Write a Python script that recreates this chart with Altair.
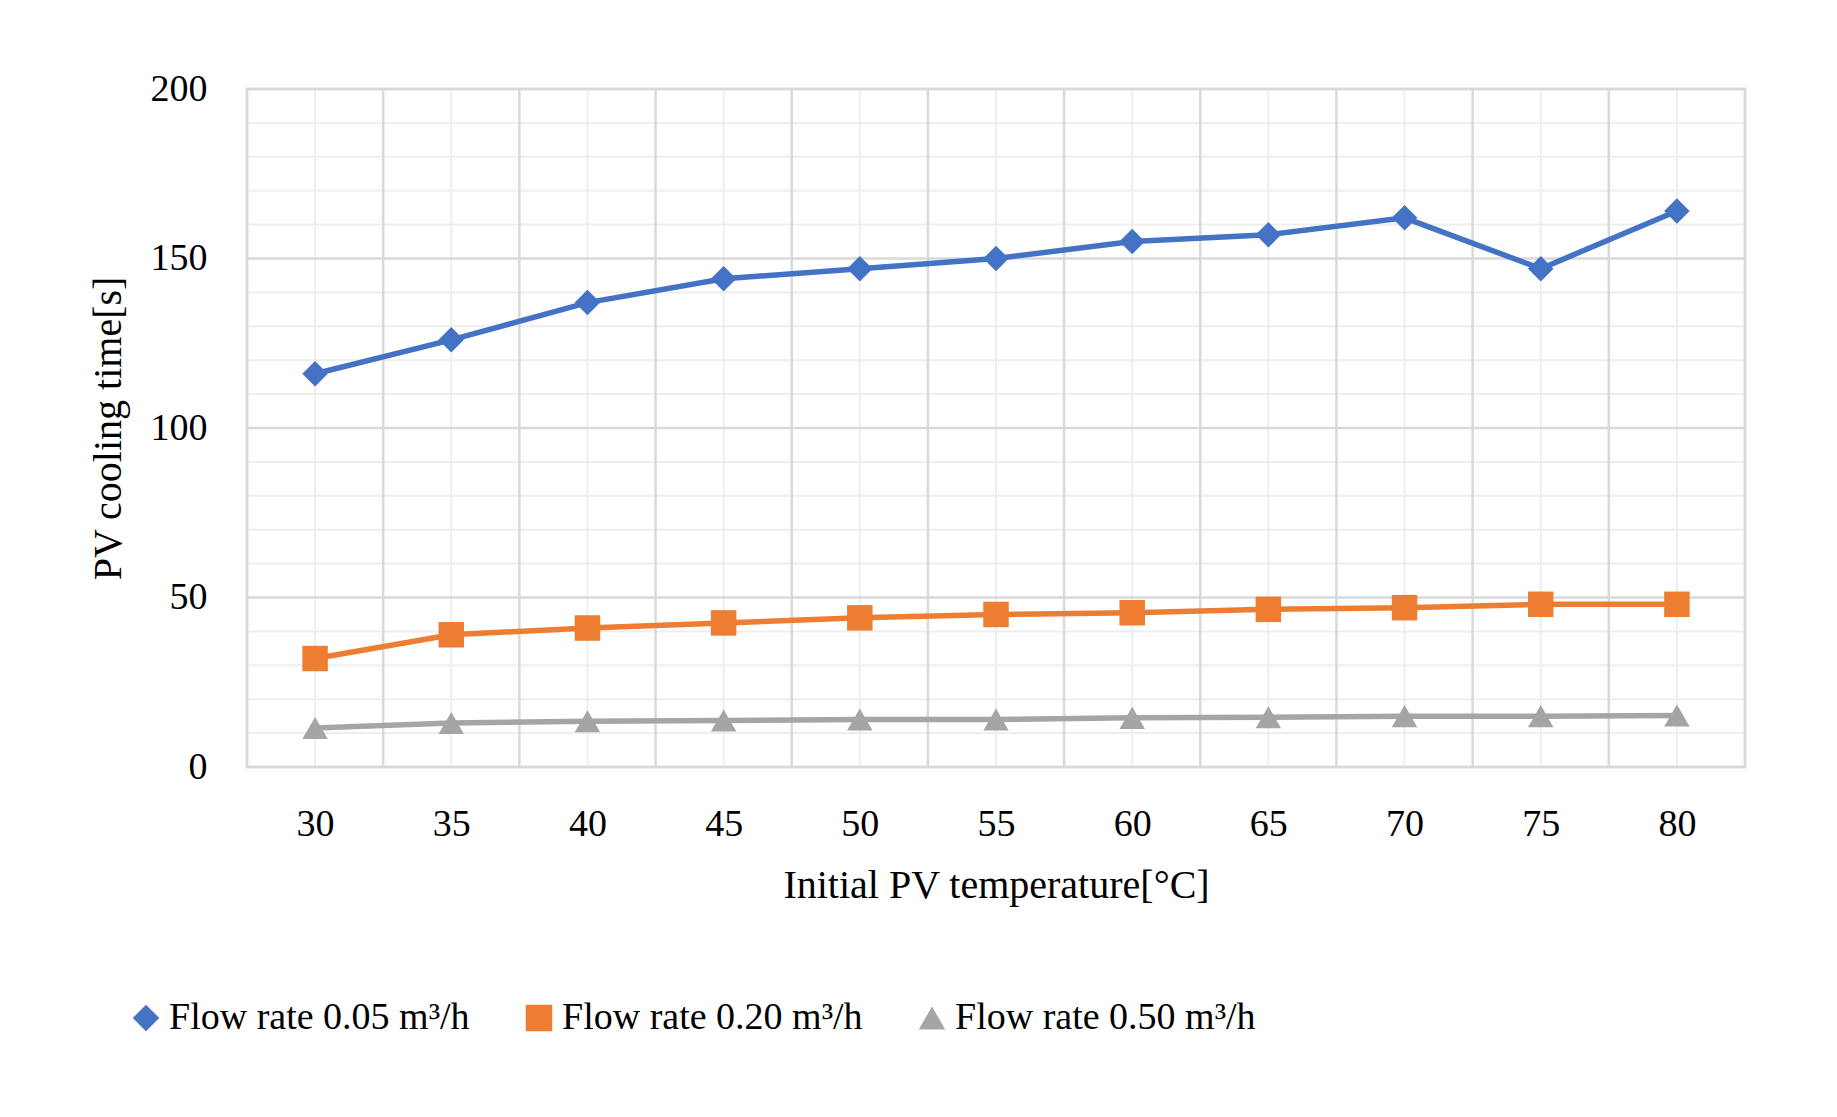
import altair as alt
import pandas as pd

temps = [30, 35, 40, 45, 50, 55, 60, 65, 70, 75, 80]
flow_005 = [116, 126, 137, 144, 147, 150, 155, 157, 162, 147, 164]
flow_020 = [32, 39, 41, 42.5, 44, 45, 45.5, 46.5, 47, 48, 48]
flow_050 = [11.5, 13, 13.5, 13.7, 14, 14, 14.5, 14.7, 15, 15, 15.2]
series = ["Flow rate 0.05 m³/h", "Flow rate 0.20 m³/h", "Flow rate 0.50 m³/h"]

rows = []
for name, vals in zip(series, [flow_005, flow_020, flow_050]):
    for t, v in zip(temps, vals):
        rows.append({"temp": t, "time": v, "series": name})
df = pd.DataFrame(rows)

FONT = "Liberation Serif"
xs = alt.Scale(domain=[27.5, 82.5], nice=False, zero=False)
ys = alt.Scale(domain=[0, 200], nice=False)

vmajor = pd.DataFrame({"x": [27.5 + 5 * i for i in range(12)]})
vminor = pd.DataFrame({"x": temps})
hmajor = pd.DataFrame({"y": [0, 50, 100, 150, 200]})
hminor = pd.DataFrame({"y": [v for v in range(10, 200, 10) if v % 50]})

g1 = alt.Chart(vminor).mark_rule(color="#eeeeee", strokeWidth=2).encode(x=alt.X("x:Q", scale=xs))
g2 = alt.Chart(hminor).mark_rule(color="#eeeeee", strokeWidth=2).encode(y=alt.Y("y:Q", scale=ys))
g3 = alt.Chart(vmajor).mark_rule(color="#d9d9d9", strokeWidth=2.5).encode(x=alt.X("x:Q", scale=xs))
g4 = alt.Chart(hmajor).mark_rule(color="#d9d9d9", strokeWidth=2.5).encode(y=alt.Y("y:Q", scale=ys))

color = alt.Color(
    "series:N",
    scale=alt.Scale(domain=series, range=["#4472C4", "#ED7D31", "#A5A5A5"]),
    legend=alt.Legend(title=None, orient="none", direction="horizontal",
                      legendX=-120, legendY=910,
                      labelFont=FONT, labelFontSize=38, labelLimit=0, symbolSize=700,
                      symbolStrokeWidth=0, columnPadding=50, labelColor="black"),
)
shape = alt.Shape("series:N", scale=alt.Scale(domain=series, range=["diamond", "square", "triangle-up"]))

lines = alt.Chart(df).mark_line(strokeWidth=5.5).encode(
    x=alt.X("temp:Q", scale=xs, title="Initial PV temperature[°C]",
            axis=alt.Axis(values=temps, grid=False, domain=False, ticks=False, labelPadding=38)),
    y=alt.Y("time:Q", scale=ys, title="PV cooling time[s]",
            axis=alt.Axis(values=[0, 50, 100, 150, 200], grid=False, domain=False, ticks=False, labelPadding=40)),
    color=color,
)
points = alt.Chart(df).mark_point(filled=True, size=650, opacity=1).encode(
    x=alt.X("temp:Q", scale=xs), y=alt.Y("time:Q", scale=ys), color=color, shape=shape,
)

chart = (
    alt.layer(g1, g2, g3, g4, lines, points)
    .properties(width=1498, height=678,
                padding={"left": 80, "top": 62, "right": 50, "bottom": 30})
    .configure_axis(labelFont=FONT, labelFontSize=38, titleFont=FONT, titleFontSize=40,
                    labelColor="black", titleColor="black", titleFontWeight="normal", titlePadding=22)
    .configure_view(stroke="#d9d9d9", strokeWidth=2.5)
)
chart.save("out.html", embed_options={"renderer": "svg", "actions": False})
